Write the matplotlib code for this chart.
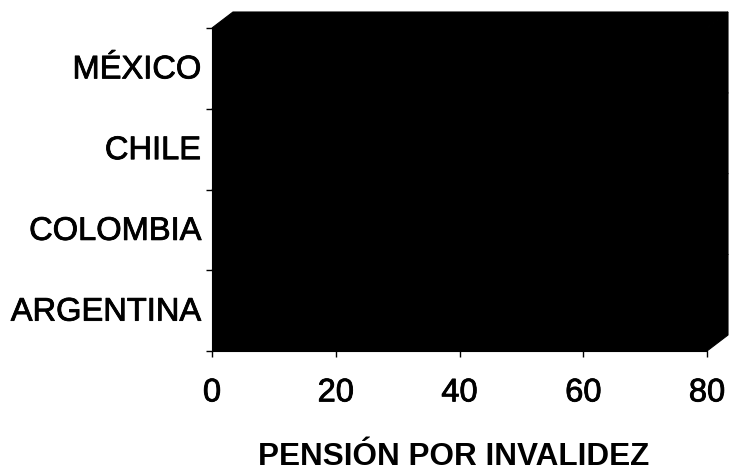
#!/usr/bin/python3

import matplotlib
matplotlib.use('Agg')
import matplotlib.pyplot as plt
import matplotlib.patheffects as pe
from matplotlib.transforms import ScaledTranslation
import numpy as np

countries = ['ARGENTINA', 'COLOMBIA', 'CHILE', 'MÉXICO']
pension = [80, 80, 80, 80]
x_ticks = [0, 20, 40, 60, 80]

W, H = 729, 471
DX, DY = 21, 16  # depth of the 3d bars, pixels
FS = 23.5

plt.rcParams['font.family'] = ['Liberation Sans', 'DejaVu Sans']

fig = plt.figure(figsize=(W/100, H/100), dpi=100)
ax = fig.add_axes([212/W, 1 - 351/H, (707 - 212)/W, (351 - 28)/H])

ax.set_xlim(0, 80)
ax.set_ylim(-0.5, 3.5)

y = np.arange(len(countries))
bar_h = 1.0
ax.barh(y, pension, height=bar_h, color='black', edgecolor='black', linewidth=0.8, zorder=3)

# extrude each bar up and to the right
back = ax.transData + ScaledTranslation(DX/100, DY/100, fig.dpi_scale_trans)
inv = fig.transFigure.inverted()
for yi, v in zip(y, pension):
    lo, hi = yi - bar_h/2, yi + bar_h/2
    front_pts = ax.transData.transform([(0, lo), (v, lo), (v, hi), (0, hi)])
    back_pts = back.transform([(0, lo), (v, lo), (v, hi), (0, hi)])
    side = np.vstack([front_pts[1], back_pts[1], back_pts[2], front_pts[2]])
    top = np.vstack([front_pts[3], back_pts[3], back_pts[2], front_pts[2]])
    for poly in (side, top):
        fig.add_artist(plt.Polygon(inv.transform(poly), closed=True, facecolor='black',
                                   edgecolor='black', linewidth=0.8,
                                   transform=fig.transFigure))

ax.set_xticks(x_ticks)
ax.set_yticks(y)
ax.set_yticklabels(countries)
ax.set_yticks(np.arange(-0.5, 4), minor=True)
ax.tick_params(axis='y', which='major', length=0, pad=8, labelsize=FS)
ax.tick_params(axis='y', which='minor', length=4, width=1)
ax.tick_params(axis='x', length=4, width=1, pad=15, labelsize=FS)
for s in ('top', 'right'):
    ax.spines[s].set_visible(False)

# country names sit a little above the bar centres
lift = ScaledTranslation(0, 2/100, fig.dpi_scale_trans)
for t in ax.get_yticklabels():
    t.set_transform(t.get_transform() + lift)

ax.set_xlabel('PENSIÓN POR INVALIDEZ', fontsize=22.7, fontweight='bold', labelpad=24, x=0.489)

# labels look heavier than the regular face
for t in ax.get_xticklabels() + ax.get_yticklabels():
    t.set_path_effects([pe.withStroke(linewidth=0.6, foreground='black')])

fig.savefig('out.png', dpi=100)
